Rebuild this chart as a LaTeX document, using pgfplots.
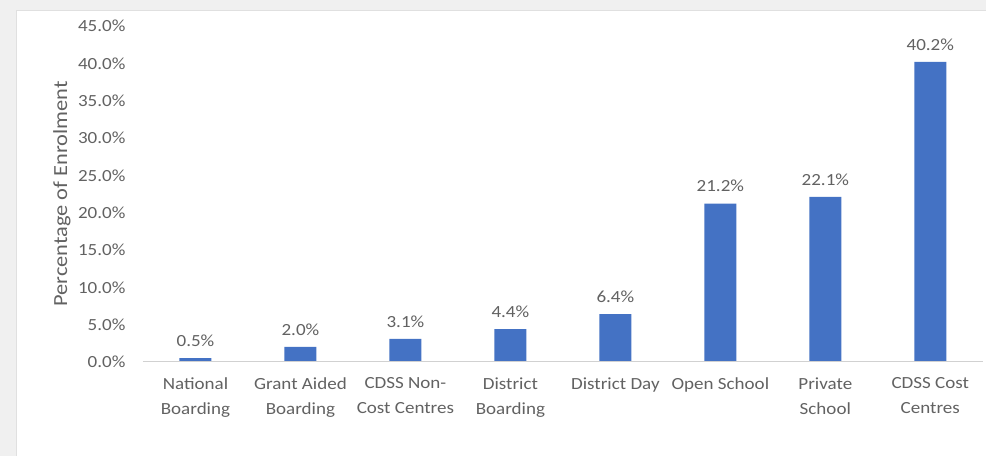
\documentclass[border=0pt]{standalone}
\usepackage{pgfplots}
\pgfplotsset{compat=1.18}
\usepackage{fontspec}
\setmainfont{Carlito}[FakeStretch=1.12]
\definecolor{barblue}{HTML}{4472C4}
\definecolor{txt}{HTML}{626262}
\begin{document}
\begin{tikzpicture}[x=1pt,y=1pt]
\fill[black!6] (0,0) rectangle (986,456);
\fill[white] (16,0) rectangle (986,446);
\draw[black!12] (16,0) -- (16,446) -- (986,446);
\begin{axis}[
  at={(143pt,94pt)}, anchor=south west,
  scale only axis, width=840pt, height=336pt,
  xmin=-0.5, xmax=7.5, ymin=0, ymax=45,
  ybar, bar width=32pt,
  axis line style={draw=none},
  major tick length=0pt,
  /pgf/number format/assume math mode=true,
  ytick={0,5,...,45},
  yticklabel={\pgfmathprintnumber[fixed,fixed zerofill,precision=1]{\tick}\%},
  yticklabel style={font=\fontsize{17}{19}\selectfont, text=txt, xshift=-14pt},
  xtick=data,
  xticklabels={{National\\Boarding},{Grant Aided\\Boarding},{CDSS Non-\\Cost Centres},{District\\Boarding},{District Day},{Open School},{Private\\School},{CDSS Cost\\Centres}},
  xticklabel style={font=\fontsize{17}{25}\selectfont, text=txt, align=center, yshift=-12pt},
  ylabel={Percentage of Enrolment},
  every axis y label/.style={at={(axis description cs:-0.0964,0.5)}, rotate=90, anchor=center, font=\fontsize{20}{22}\selectfont, text=txt},
  nodes near coords={\pgfmathprintnumber[fixed,fixed zerofill,precision=1]{\pgfplotspointmeta}\%},
  nodes near coords style={font=\fontsize{17}{19}\selectfont, text=txt, anchor=south, yshift=8pt},
  clip=false,
]
\addplot[fill=barblue, draw=none] coordinates {(0,0.5) (1,2.0) (2,3.1) (3,4.4) (4,6.4) (5,21.2) (6,22.1) (7,40.2)};
\draw[black!18, line width=1pt] (axis cs:-0.5,0) -- (axis cs:7.5,0);
\end{axis}
\end{tikzpicture}
\end{document}
